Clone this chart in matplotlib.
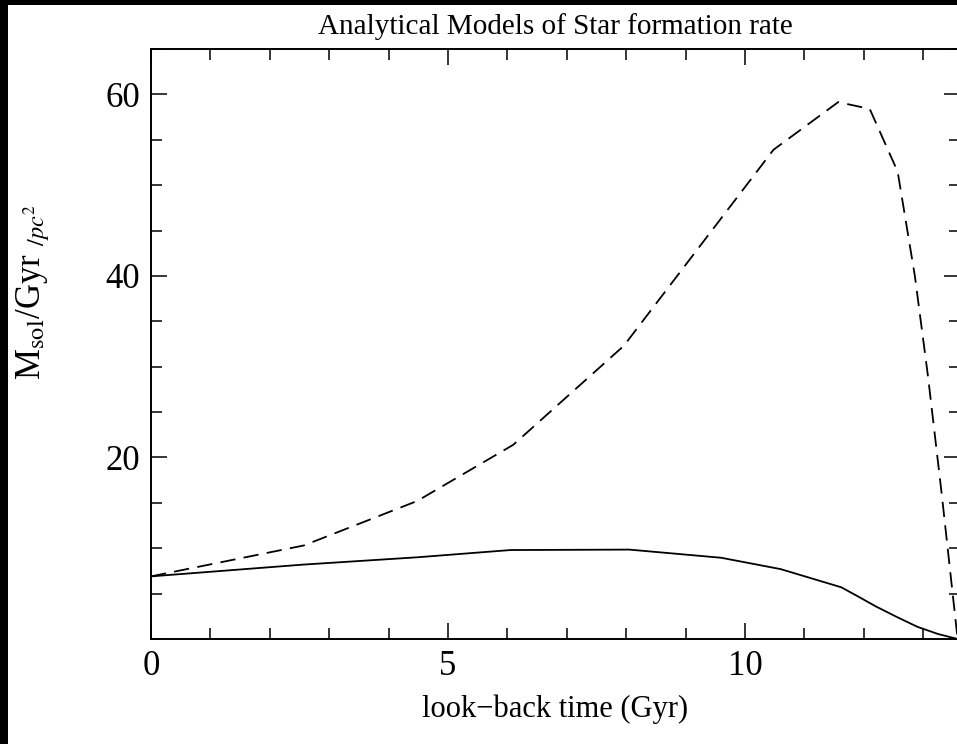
import matplotlib
matplotlib.use("Agg")
import matplotlib.pyplot as plt
from matplotlib.patches import Rectangle
from matplotlib.ticker import MultipleLocator, FixedLocator

plt.rcParams['font.family'] = ['Liberation Serif', 'DejaVu Serif']
plt.rcParams['mathtext.fontset'] = 'stix'
plt.rcParams['lines.scale_dashes'] = False

# Data
t_solid = [0.0, 2.57, 4.48, 6.05, 8.05, 9.6, 10.6, 11.62, 11.9, 12.2, 12.55, 12.9, 13.25, 13.58]
sfr_solid = [6.9, 8.2, 9.0, 9.8, 9.85, 8.95, 7.7, 5.7, 4.7, 3.6, 2.45, 1.35, 0.55, 0.0]

t_dashed = [0.0, 2.57, 4.48, 6.1, 7.96, 10.48, 11.57, 12.1, 12.57, 12.86, 13.08, 13.31, 13.58]
sfr_dashed = [6.9, 10.3, 15.2, 21.4, 32.3, 53.9, 59.15, 58.4, 51.5, 40.0, 29.0, 16.1, 0.0]

y_major = [20, 40, 60]
title = "Analytical Models of Star formation rate"
xlabel = "look\u2212back time (Gyr)"
ylabel = r"M$_{\rm sol}$/Gyr $_{/pc^2}$"

W, H = 957, 744
fig = plt.figure(figsize=(W / 100, H / 100), dpi=100, facecolor='black')
fig.patches.append(Rectangle((8 / W, 0), 1 - 8 / W, 1 - 5 / H, transform=fig.transFigure,
                             facecolor='white', edgecolor='none', zorder=-10))

left, right, bottom, top = 151, 960, 639, 49
ax = fig.add_axes([left / W, (H - bottom) / H, (right - left) / W, (bottom - top) / H])
ax.set_facecolor('white')

ax.plot(t_solid, sfr_solid, color='black', lw=1.3, solid_joinstyle='round')
ax.plot(t_dashed, sfr_dashed, color='black', lw=1.3, linestyle=(0, (11, 6)))

ax.set_xlim(0, 13.62)
ax.set_ylim(0, 65)
ax.xaxis.set_major_locator(MultipleLocator(5))
ax.xaxis.set_minor_locator(MultipleLocator(1))
ax.yaxis.set_major_locator(FixedLocator(y_major))
ax.yaxis.set_minor_locator(MultipleLocator(5))
ax.tick_params(which='both', direction='in', top=True, right=True, width=1.1, colors='black')
ax.tick_params(which='major', length=11.5, labelsize=25, pad=8)
ax.tick_params(which='minor', length=8)
for s in ax.spines.values():
    s.set_linewidth(1.4)

ax.set_title(title, fontsize=21, pad=11)
ax.set_xlabel(xlabel, fontsize=22, labelpad=8)
fig.text(33 / W, 1 - 292 / H, ylabel, rotation=90, ha='center', va='center', fontsize=25)

fig.savefig("out.png", dpi=100, facecolor=fig.get_facecolor())
